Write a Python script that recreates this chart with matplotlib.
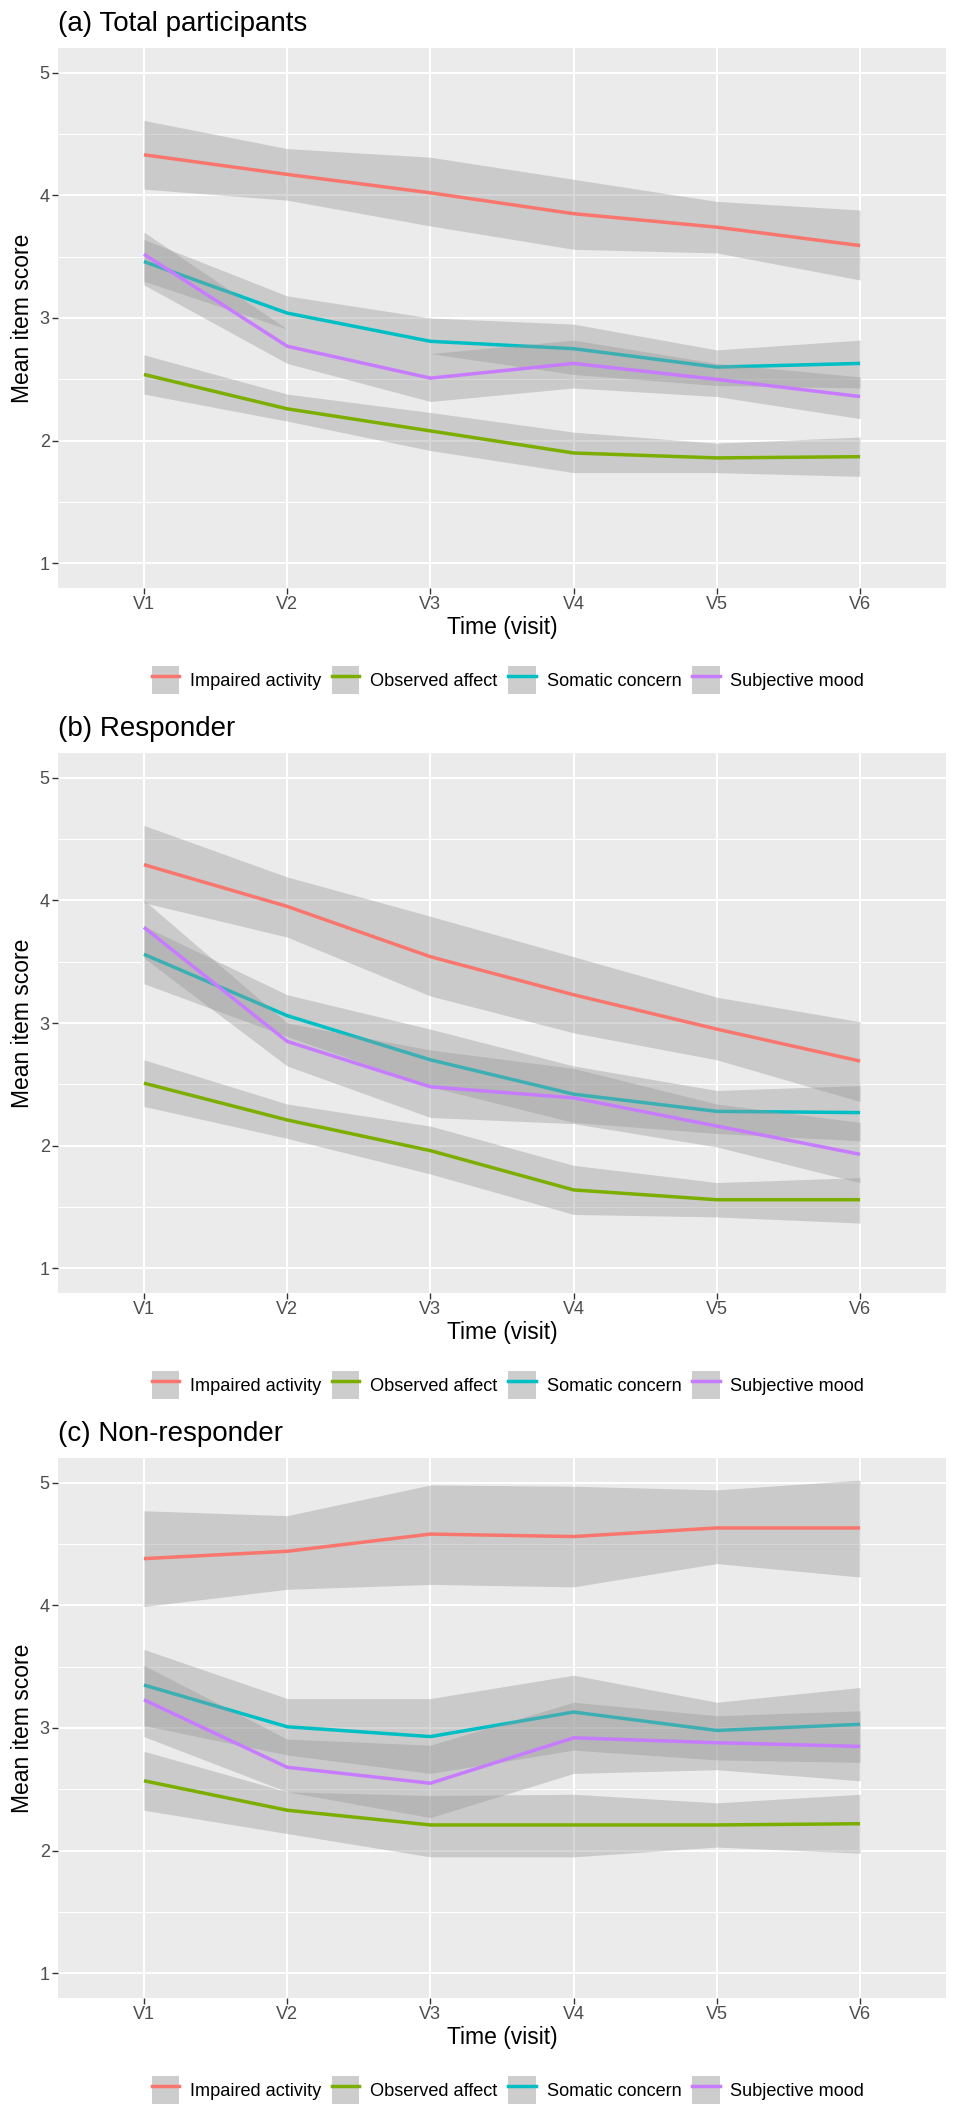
import matplotlib
matplotlib.use("Agg")
import matplotlib.pyplot as plt
from matplotlib.patches import Patch
from matplotlib.lines import Line2D
from matplotlib.legend_handler import HandlerTuple, HandlerLine2D

plt.rcParams['font.family'] = ['Liberation Sans', 'DejaVu Sans']

visits = ['V1', 'V2', 'V3', 'V4', 'V5', 'V6']
series = ['Impaired activity', 'Observed affect', 'Somatic concern', 'Subjective mood']
colors = ['#F8766D', '#7CAE00', '#00BFC4', '#C77CFF']
titles = ['(a) Total participants', '(b) Responder', '(c) Non-responder']

# Panel (a) Total participants: rows follow `series`
a_mean = [[4.33, 4.17, 4.02, 3.85, 3.74, 3.59],
          [2.54, 2.26, 2.08, 1.90, 1.86, 1.87],
          [3.46, 3.04, 2.81, 2.75, 2.60, 2.63],
          [3.52, 2.77, 2.51, 2.63, 2.50, 2.36]]
a_lower = [[4.05, 3.96, 3.75, 3.56, 3.53, 3.31],
           [2.38, 2.16, 1.92, 1.74, 1.74, 1.71],
           [3.30, 2.91, 2.71, 2.54, 2.45, 2.43],
           [3.27, 2.63, 2.32, 2.43, 2.36, 2.18]]
a_upper = [[4.61, 4.38, 4.31, 4.13, 3.95, 3.88],
           [2.70, 2.38, 2.23, 2.07, 1.98, 2.03],
           [3.64, 3.18, 3.00, 2.95, 2.74, 2.82],
           [3.70, 2.91, 2.71, 2.82, 2.63, 2.52]]

# Panel (b) Responder
b_mean = [[4.29, 3.95, 3.54, 3.23, 2.95, 2.69],
          [2.51, 2.21, 1.96, 1.64, 1.56, 1.56],
          [3.56, 3.06, 2.70, 2.42, 2.28, 2.27],
          [3.78, 2.85, 2.48, 2.39, 2.16, 1.93]]
b_lower = [[3.98, 3.70, 3.22, 2.92, 2.70, 2.36],
           [2.32, 2.06, 1.77, 1.44, 1.42, 1.37],
           [3.32, 2.89, 2.48, 2.19, 2.10, 2.04],
           [3.53, 2.65, 2.23, 2.18, 1.99, 1.70]]
b_upper = [[4.61, 4.19, 3.87, 3.54, 3.21, 3.01],
           [2.70, 2.34, 2.16, 1.84, 1.70, 1.74],
           [3.79, 3.23, 2.95, 2.65, 2.45, 2.49],
           [4.00, 3.00, 2.78, 2.63, 2.34, 2.19]]

# Panel (c) Non-responder
c_mean = [[4.38, 4.44, 4.58, 4.56, 4.63, 4.63],
          [2.57, 2.33, 2.21, 2.21, 2.21, 2.22],
          [3.35, 3.01, 2.93, 3.13, 2.98, 3.03],
          [3.23, 2.68, 2.55, 2.92, 2.88, 2.85]]
c_lower = [[3.99, 4.13, 4.17, 4.15, 4.34, 4.23],
           [2.33, 2.14, 1.95, 1.95, 2.03, 1.98],
           [3.02, 2.78, 2.63, 2.82, 2.74, 2.72],
           [2.93, 2.48, 2.27, 2.63, 2.66, 2.57]]
c_upper = [[4.77, 4.73, 4.98, 4.97, 4.94, 5.02],
           [2.81, 2.48, 2.45, 2.46, 2.39, 2.46],
           [3.64, 3.24, 3.24, 3.43, 3.21, 3.33],
           [3.51, 2.91, 2.86, 3.21, 3.10, 3.14]]

panels = [(a_mean, a_lower, a_upper), (b_mean, b_lower, b_upper), (c_mean, c_lower, c_upper)]

W, H = 960, 2120
fig = plt.figure(figsize=(W / 100, H / 100), dpi=100)

panel_tops = [48, 753, 1458]
panel_h = 540
left, right = 58, 946
title_offset = 24
legend_offset = 92

x = list(range(1, len(visits) + 1))

for (mean, lower, upper), title, top in zip(panels, titles, panel_tops):
    ax = fig.add_axes([left / W, 1 - (top + panel_h) / H, (right - left) / W, panel_h / H])
    ax.set_facecolor('#EBEBEB')
    for s in ax.spines.values():
        s.set_visible(False)
    ax.set_axisbelow(True)
    for i in range(len(series)):
        ax.fill_between(x, lower[i], upper[i], color='#999999', alpha=0.4, lw=0, zorder=2)
        ax.plot(x, mean[i], color=colors[i], lw=2.5, zorder=2, solid_capstyle='butt')
    ax.set_xlim(0.4, 6.6)
    ax.set_ylim(0.8, 5.2)
    ax.set_xticks(x)
    ax.set_xticklabels(visits)
    ax.set_yticks([1, 2, 3, 4, 5])
    ax.set_yticks([1.5, 2.5, 3.5, 4.5], minor=True)
    ax.grid(which='major', color='white', lw=1.5)
    ax.grid(which='minor', axis='y', color='white', lw=0.75)
    ax.tick_params(axis='both', which='major', length=4, width=1.0, color='#333333',
                   labelsize=13, labelcolor='#4D4D4D', pad=2)
    ax.tick_params(axis='both', which='minor', length=0)
    ax.set_xlabel('Time (visit)', fontsize=16.5, labelpad=2, color='black')
    ax.set_ylabel('Mean item score', fontsize=16.5, labelpad=4, color='black')
    fig.text(left / W, 1 - (top - title_offset) / H, title, fontsize=20,
             ha='left', va='center', color='black')

    handles = [(Patch(facecolor='#CDCDCD', edgecolor='none'),
                Line2D([0], [0], color=c, lw=2.5)) for c in colors]
    fig.legend(handles, series, loc='center',
               bbox_to_anchor=(508 / W, 1 - (top + panel_h + legend_offset) / H),
               ncol=4, frameon=False, fontsize=13.1, handlelength=1.5, handleheight=1.93,
               handletextpad=0.6, columnspacing=0.6, borderpad=0,
               handler_map={tuple: HandlerTuple(ndivide=1),
                            Line2D: HandlerLine2D(marker_pad=0.1)})

fig.savefig('out.png', dpi=100, facecolor='white')
